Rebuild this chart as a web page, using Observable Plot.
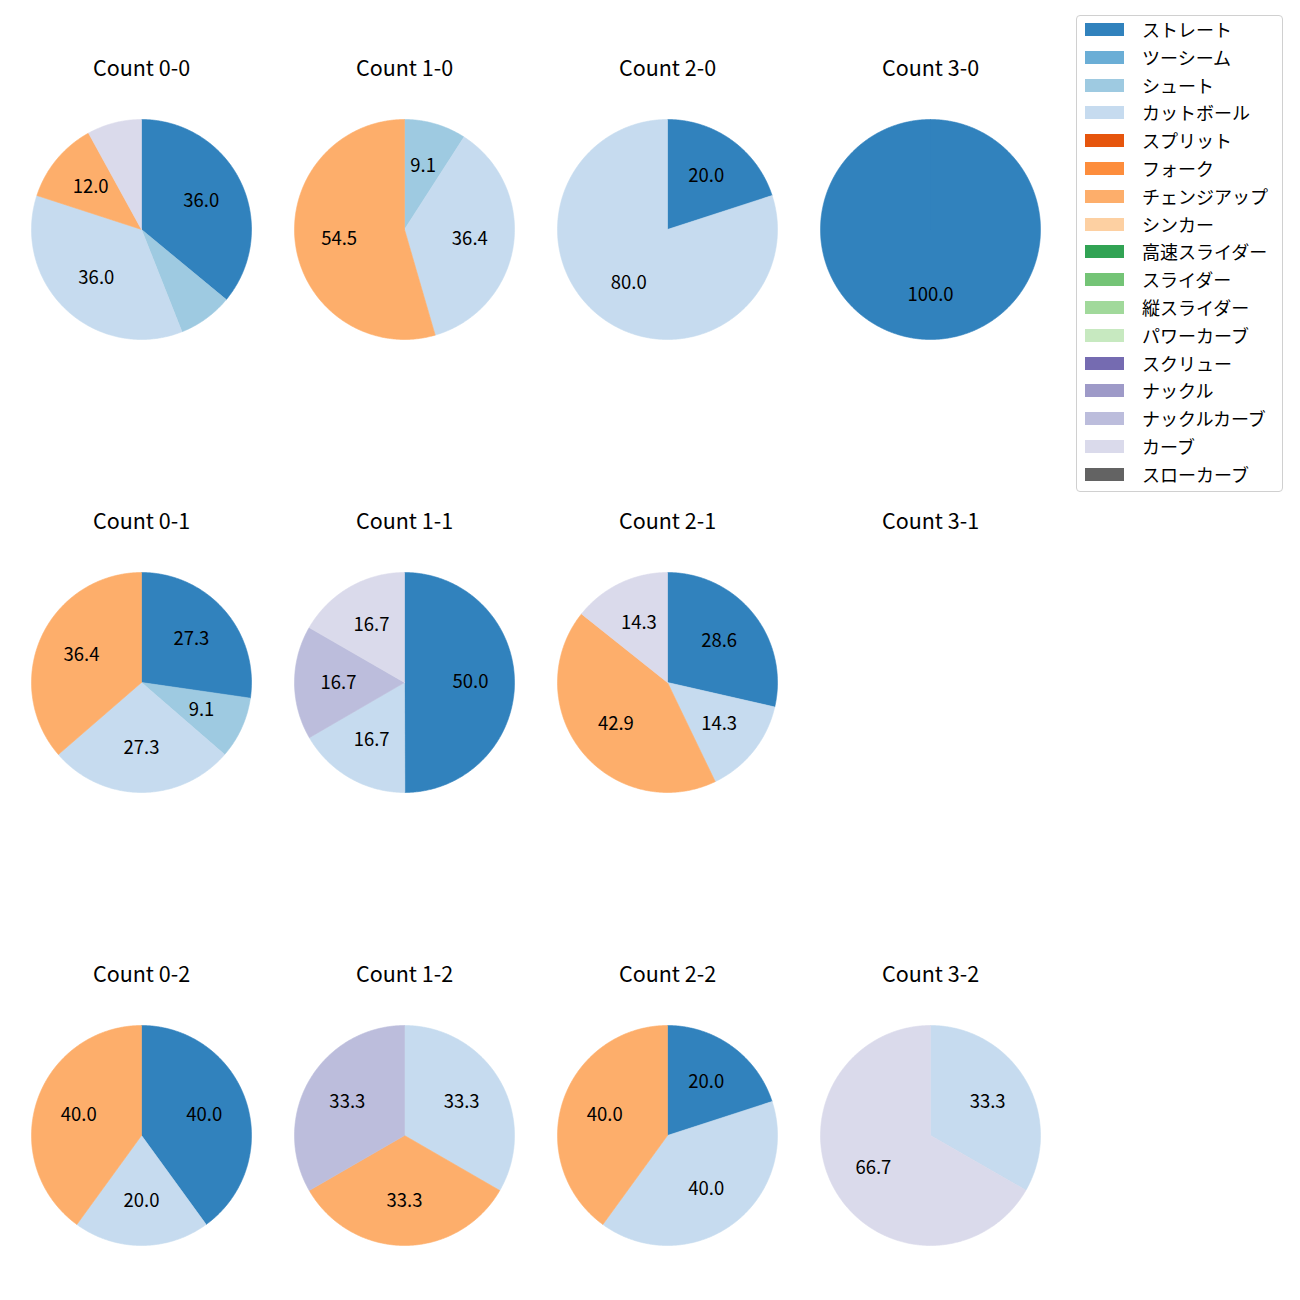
<!DOCTYPE html>
<html><head><meta charset="utf-8">
<script src="https://cdn.jsdelivr.net/npm/d3@7"></script>
<script src="https://cdn.jsdelivr.net/npm/@observablehq/plot@0.6"></script>
<style>
body{margin:0;background:#fff;font-family:"Noto Sans CJK JP","Noto Sans",sans-serif;}
#wrap{position:relative;width:1300px;height:1300px;overflow:hidden;}
#chart{position:absolute;left:0;top:0;}
#legend{position:absolute;left:1076px;top:15px;width:207px;height:477px;box-sizing:border-box;border:1px solid #d0d0d0;border-radius:4px;background:#fff;padding-top:0px;}
.row{position:relative;height:27.8px;}
.sw{position:absolute;left:8px;top:7px;width:39px;height:13px;}
.lb{position:absolute;left:65px;top:0;font-size:18px;line-height:27.8px;color:#000;white-space:nowrap;}
</style>
</head><body>
<div id="wrap"><div id="chart"></div><div id="legend"></div></div>
<script>
const pitchTypes = ["ストレート","ツーシーム","シュート","カットボール","スプリット","フォーク","チェンジアップ","シンカー","高速スライダー","スライダー","縦スライダー","パワーカーブ","スクリュー","ナックル","ナックルカーブ","カーブ","スローカーブ"];
const pitchColors = ["#3182bd","#6baed6","#9ecae1","#c6dbef","#e6550d","#fd8d3c","#fdae6b","#fdd0a2","#31a354","#74c476","#a1d99b","#c7e9c0","#756bb1","#9e9ac8","#bcbddc","#dadaeb","#636363"];
const countLabels = ["0-0","1-0","2-0","3-0","0-1","1-1","2-1","3-1","0-2","1-2","2-2","3-2"];
// shares (%) per count, in pitchTypes order
const share00 = [36.0,0,8.0,36.0,0,0,12.0,0,0,0,0,0,0,0,0,8.0,0];
const share10 = [0,0,9.1,36.4,0,0,54.5,0,0,0,0,0,0,0,0,0,0];
const share20 = [20.0,0,0,80.0,0,0,0,0,0,0,0,0,0,0,0,0,0];
const share30 = [100.0,0,0,0,0,0,0,0,0,0,0,0,0,0,0,0,0];
const share01 = [27.3,0,9.1,27.3,0,0,36.4,0,0,0,0,0,0,0,0,0,0];
const share11 = [50.0,0,0,16.7,0,0,0,0,0,0,0,0,0,0,16.7,16.7,0];
const share21 = [28.6,0,0,14.3,0,0,42.9,0,0,0,0,0,0,0,0,14.3,0];
const share31 = [0,0,0,0,0,0,0,0,0,0,0,0,0,0,0,0,0];
const share02 = [40.0,0,0,20.0,0,0,40.0,0,0,0,0,0,0,0,0,0,0];
const share12 = [0,0,0,33.3,0,0,33.3,0,0,0,0,0,0,0,33.3,0,0];
const share22 = [20.0,0,0,40.0,0,0,40.0,0,0,0,0,0,0,0,0,0,0];
const share32 = [0,0,0,33.3,0,0,0,0,0,0,0,0,0,0,0,66.7,0];
const shares = [share00,share10,share20,share30,share01,share11,share21,share31,share02,share12,share22,share32];

const titles = [], wedges = [], labels = [];
countLabels.forEach((c, i) => {
  const b = +c[0], s = +c[2];
  titles.push({b, s, text: "Count " + c});
  const vals = shares[i];
  const total = d3.sum(vals);
  if (!total) return;
  let cum = 0;
  vals.forEach((v, k) => {
    if (!v) return;
    const a0 = cum / total, a1 = (cum + v) / total;
    cum += v;
    const key = c + "|" + k;
    wedges.push({b, s, key, pitch: pitchTypes[k], x: 0, y: 0});
    const n = Math.max(2, Math.ceil((a1 - a0) * 720));
    for (let j = 0; j <= n; j++) {
      const t = 2 * Math.PI * (a0 + (a1 - a0) * j / n);
      wedges.push({b, s, key, pitch: pitchTypes[k], x: Math.sin(t), y: Math.cos(t)});
    }
    wedges.push({b, s, key, pitch: pitchTypes[k], x: 0, y: 0});
    if (v >= 9) {
      const tm = 2 * Math.PI * (a0 + a1) / 2;
      labels.push({b, s, x: 0.6 * Math.sin(tm), y: 0.6 * Math.cos(tm), text: v.toFixed(1)});
    }
  });
});

const R = 110; // px per data unit
const bandW = 263, bandH = 340;
const chart = Plot.plot({
  width: 1300, height: 1300,
  marginLeft: 9.5, marginRight: 238.5, marginTop: 49, marginBottom: 5,
  facet: {marginTop: 0, marginRight: 0, marginBottom: 0, marginLeft: 0},
  fx: {domain: [0,1,2,3], padding: 0, round: false, axis: null},
  fy: {domain: [0,1,2], paddingInner: 113/453, paddingOuter: 0, round: false, axis: null},
  x: {domain: [-bandW/2/R, bandW/2/R], axis: null},
  y: {domain: [180/R - bandH/R, 180/R], axis: null},
  color: {domain: pitchTypes, range: pitchColors},
  style: {fontFamily: '"Noto Sans CJK JP","Noto Sans",sans-serif', background: "#fff"},
  marks: [
    Plot.line(wedges, {x: "x", y: "y", z: "key", fx: "b", fy: "s", fill: "pitch", stroke: "pitch", strokeWidth: 0.6, curve: "linear"}),
    Plot.text(labels, {x: "x", y: "y", fx: "b", fy: "s", text: "text", fontSize: 18.5, fill: "#000"}),
    Plot.text(titles, {x: () => 0, y: () => 160/R, fx: "b", fy: "s", text: "text", fontSize: 21.5, fill: "#000"})
  ]
});
document.getElementById("chart").appendChild(chart);

const lg = document.getElementById("legend");
pitchTypes.forEach((p, k) => {
  const row = document.createElement("div"); row.className = "row";
  const sw = document.createElement("div"); sw.className = "sw"; sw.style.background = pitchColors[k];
  const lb = document.createElement("div"); lb.className = "lb"; lb.textContent = p;
  row.appendChild(sw); row.appendChild(lb); lg.appendChild(row);
});
</script>
</body></html>
